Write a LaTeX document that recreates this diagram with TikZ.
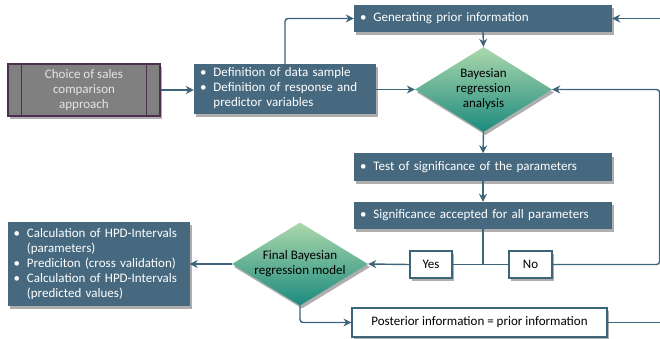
\documentclass[tikz,border=0pt]{standalone}
\usepackage{fontspec}
\setmainfont{Carlito}
\usepackage{tikz}
\usetikzlibrary{shapes.geometric,arrows.meta,shadows}
\definecolor{boxblue}{RGB}{70,105,127}
\definecolor{linkblue}{RGB}{62,100,121}
\definecolor{dialight}{RGB}{172,216,172}
\definecolor{diadark}{RGB}{28,138,126}
\definecolor{choicegray}{RGB}{128,128,128}
\definecolor{choiceedge}{RGB}{78,45,78}
\newcommand{\bl}{\textbullet}

\begin{document}
\begin{tikzpicture}[x=1pt,y=-1pt,font=\fontsize{13}{15}\selectfont,
    shade/.style={drop shadow={shadow xshift=2pt,shadow yshift=-3pt,opacity=.45,fill=black!70}},
    flowbox/.style={fill=boxblue, text=white, minimum height=27pt, inner xsep=6pt, inner ysep=2pt, align=left, shade},
    answer/.style={draw=linkblue, line width=1.2pt, fill=white, minimum height=27pt, inner sep=2pt, shade},
    decision/.style={diamond, shape aspect=1.62, inner sep=0pt, top color=dialight, bottom color=diadark, align=center, shade},
    line/.style={draw=linkblue, line width=1.4pt, rounded corners=3pt},
    link/.style={line, -{Stealth[length=8pt,width=8pt]}}]
  \useasboundingbox (0,0) rectangle (660,339);

  \node[name=choice, draw=choiceedge, line width=1.2pt, fill=choicegray, text=black!10, minimum width=152pt, minimum height=52pt, align=center, shade] at (84,90) {Choice of sales\\comparison\\approach};
  \draw[choiceedge, line width=1.2pt] ([xshift=14pt]choice.north west) -- ([xshift=14pt]choice.south west);
  \draw[choiceedge, line width=1.2pt] ([xshift=-14pt]choice.north east) -- ([xshift=-14pt]choice.south east);

  \node[name=def, flowbox, minimum width=182pt, text width=170pt, minimum height=50pt] at (285,89)
    {\begin{tabular}{@{}l@{\hspace{7pt}}l@{}}\bl & Definition of data sample\\ \bl & Definition of response and\\ & predictor variables\end{tabular}};
  \node[name=gen, flowbox, minimum width=258pt, text width=246pt] at (483,18.5) {\bl\hspace{7pt}Generating prior information};
  \node[name=bayes, decision, minimum width=137pt, minimum height=85pt] at (483.5,89.5) {Bayesian\\regression\\analysis};
  \node[name=test, flowbox, minimum width=258pt, text width=246pt] at (483,167) {\bl\hspace{7pt}Test of significance of the parameters};
  \node[name=sig, flowbox, minimum width=258pt, text width=246pt] at (483,215.5) {\bl\hspace{7pt}Significance accepted for all parameters};
  \node[name=yes, answer, minimum width=42pt] at (431,264.5) {Yes};
  \node[name=no, answer, minimum width=43pt] at (530.5,264.5) {No};
  \node[name=final, decision, minimum width=136pt, minimum height=83pt] at (300,264) {Final Bayesian\\regression model};
  \node[name=calc, flowbox, minimum width=182pt, text width=170pt, minimum height=84pt] at (98.5,264)
    {\begin{tabular}{@{}l@{\hspace{7pt}}l@{}}\bl & Calculation of HPD-Intervals\\ & (parameters)\\ \bl & Prediciton (cross validation)\\ \bl & Calculation of HPD-Intervals\\ & (predicted values)\end{tabular}};
  \node[name=post, answer, minimum width=255pt, minimum height=29pt] at (479.5,322.5) {Posterior information = prior information};

  \coordinate (genin) at (660,18.5);
  \coordinate (postout) at (660,322.5);

  \draw[link] (choice.east) -- (choice.east -| def.west);
  \draw[link] (def.north) |- (gen.west);
  \draw[link] (genin) -- (gen.east);
  \draw[link] (gen.south) -- (bayes.north);
  \draw[link] (def.east |- bayes.west) -- (bayes.west);
  \draw[link] (bayes.south) -- (test.north);
  \draw[link] (test.south) -- (sig.north);
  \draw[line] (sig.south) -- (sig.south |- yes.east);
  \draw[line] (yes.east) -- (no.west);
  \draw[link] (no.east) -- ++(107,0) |- (bayes.east);
  \draw[link] (yes.west) -- (final.east);
  \draw[link] (final.west) -- (calc.east);
  \draw[link] (final.south) |- (post.west);
  \draw[line] (post.east) -- (postout);
\end{tikzpicture}
\end{document}
